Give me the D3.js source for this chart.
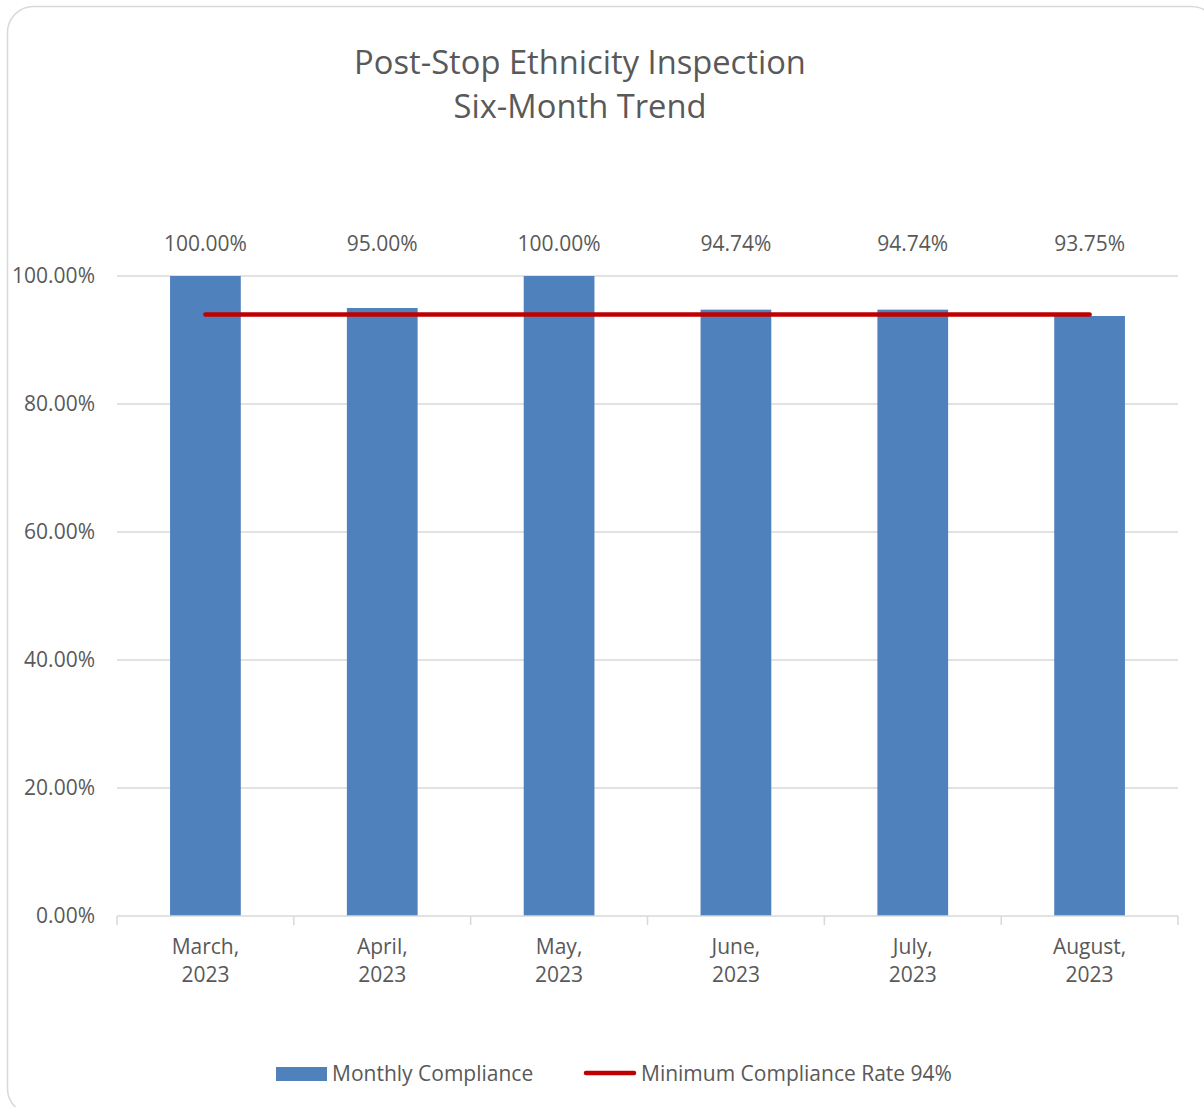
<!DOCTYPE html>
<html>
<head>
<meta charset="utf-8">
<script src="https://cdn.jsdelivr.net/npm/d3@7"></script>
<style>
  html, body { margin: 0; padding: 0; background: #fff; }
  svg { display: block; }
  text { font-family: "Open Sans", sans-serif; fill: #595959; }
</style>
</head>
<body>
<svg id="chart" width="1204" height="1107"></svg>
<script>
const categories = ["March, 2023", "April, 2023", "May, 2023", "June, 2023", "July, 2023", "August, 2023"];
const monthlyCompliance = [100.00, 95.00, 100.00, 94.74, 94.74, 93.75];
const minimumRate = [94, 94, 94, 94, 94, 94];
const yTicks = [0, 20, 40, 60, 80, 100];
const titleLines = ["Post-Stop Ethnicity Inspection", "Six-Month Trend"];
const legendLabels = ["Monthly Compliance", "Minimum Compliance Rate 94%"];

const svg = d3.select("#chart");
const plot = { left: 117, right: 1178, top: 276, bottom: 916 };
const fs = "21px";

// border
svg.append("rect")
  .attr("x", 7.5).attr("y", 6.5)
  .attr("width", 1210).attr("height", 1108)
  .attr("rx", 26).attr("ry", 26)
  .attr("fill", "#fff").attr("stroke", "#D9D9D9").attr("stroke-width", 1.5);

// title
svg.append("text")
  .attr("x", 580).attr("y", 61)
  .attr("text-anchor", "middle").attr("dominant-baseline", "central")
  .style("font-size", "32.7px")
  .selectAll("tspan").data(titleLines).join("tspan")
  .attr("x", 580).attr("dy", (d, i) => i === 0 ? 0 : 44)
  .text(d => d);

const x = d3.scaleBand().domain(categories)
  .range([plot.left, plot.right]).paddingInner(0.6).paddingOuter(0.3);
const y = d3.scaleLinear().domain([0, 100]).range([plot.bottom, plot.top]);

// gridlines
svg.append("g").selectAll("line").data(yTicks.filter(d => d > 0)).join("line")
  .attr("x1", plot.left).attr("x2", plot.right)
  .attr("y1", d => y(d)).attr("y2", d => y(d))
  .attr("stroke", "#D9D9D9").attr("stroke-width", 1.5);

// y labels
svg.append("g").selectAll("text").data(yTicks).join("text")
  .attr("x", 95).attr("y", d => y(d) - 1)
  .attr("text-anchor", "end").attr("dominant-baseline", "central")
  .style("font-size", fs)
  .text(d => d.toFixed(2) + "%");

// bars
svg.append("g").selectAll("rect").data(monthlyCompliance).join("rect")
  .attr("x", (d, i) => x(categories[i]))
  .attr("width", x.bandwidth())
  .attr("y", d => y(d))
  .attr("height", d => y(0) - y(d))
  .attr("fill", "#4F81BD");

// x axis line & ticks
const step = x.step();
svg.append("line")
  .attr("x1", plot.left).attr("x2", plot.right)
  .attr("y1", y(0)).attr("y2", y(0))
  .attr("stroke", "#D9D9D9").attr("stroke-width", 1.5);
const boundaries = d3.range(categories.length + 1).map(i => plot.left + i * step);
svg.append("g").selectAll("line").data(boundaries).join("line")
  .attr("x1", d => d).attr("x2", d => d)
  .attr("y1", y(0)).attr("y2", y(0) + 9)
  .attr("stroke", "#D9D9D9").attr("stroke-width", 1.5);

// category labels
svg.append("g").selectAll("text").data(categories).join("text")
  .attr("text-anchor", "middle")
  .attr("dominant-baseline", "central")
  .style("font-size", fs)
  .each(function(d) {
    const cx = x(d) + x.bandwidth() / 2;
    const parts = d.split(" ");
    d3.select(this).selectAll("tspan").data(parts).join("tspan")
      .attr("x", cx).attr("y", (p, i) => 946 + i * 28)
      .text(p => p);
  });

// line series
const line = d3.line()
  .x((d, i) => x(categories[i]) + x.bandwidth() / 2)
  .y(d => y(d));
svg.append("path").datum(minimumRate)
  .attr("d", line)
  .attr("fill", "none").attr("stroke", "#C00000")
  .attr("stroke-width", 4.5).attr("stroke-linecap", "round");

// data labels
svg.append("g").selectAll("text").data(monthlyCompliance).join("text")
  .attr("x", (d, i) => x(categories[i]) + x.bandwidth() / 2)
  .attr("y", 243)
  .attr("text-anchor", "middle").attr("dominant-baseline", "central")
  .style("font-size", fs)
  .text(d => d.toFixed(2) + "%");

// legend
const lg = svg.append("g");
lg.append("rect").attr("x", 276).attr("y", 1067).attr("width", 51).attr("height", 14).attr("fill", "#4F81BD");
lg.append("text").attr("x", 332).attr("y", 1073).attr("dominant-baseline", "central")
  .style("font-size", fs).text(legendLabels[0]);
lg.append("line").attr("x1", 586).attr("x2", 634).attr("y1", 1073).attr("y2", 1073)
  .attr("stroke", "#C00000").attr("stroke-width", 4.5).attr("stroke-linecap", "round");
lg.append("text").attr("x", 641).attr("y", 1073).attr("dominant-baseline", "central")
  .style("font-size", fs).text(legendLabels[1]);
</script>
</body>
</html>
